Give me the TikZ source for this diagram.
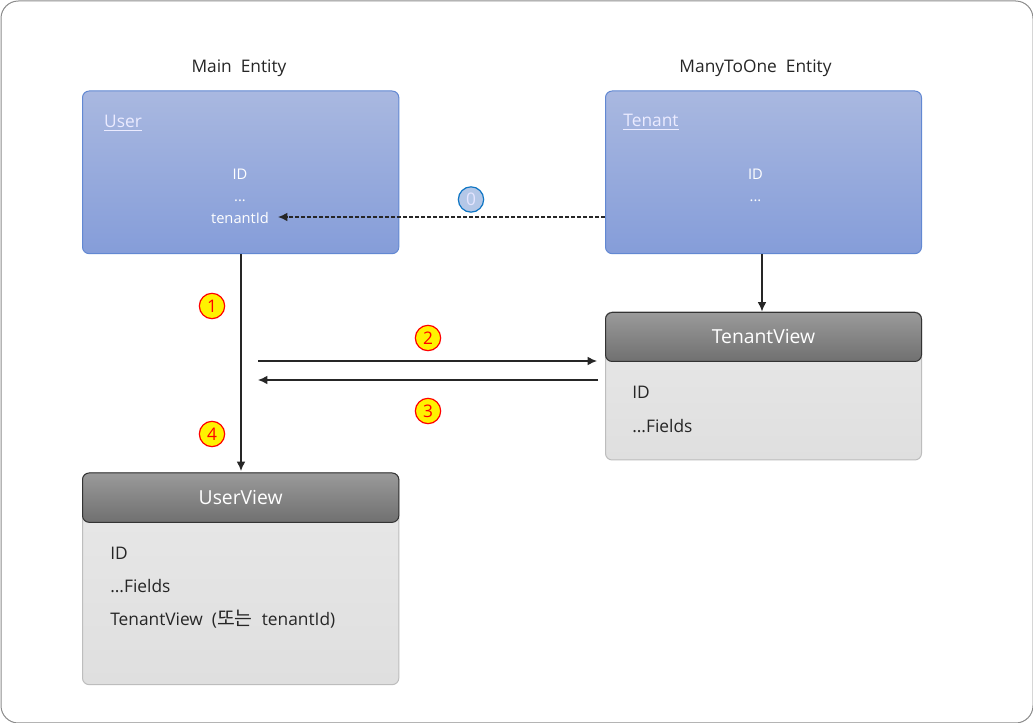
\documentclass[tikz,border=0pt]{standalone}
\usepackage{fontspec}
\setmainfont[WordSpace=2.0]{Open Sans}
\newfontfamily\krfont[Scale=1.12]{Noto Sans CJK KR}
\usetikzlibrary{arrows.meta}
\definecolor{entityB}{HTML}{6288D2}
\definecolor{entityT}{HTML}{A9B8E0}
\definecolor{entityM}{HTML}{859DD9}
\definecolor{headB}{HTML}{333333}
\definecolor{headT}{HTML}{9A9A9A}
\definecolor{headM}{HTML}{707070}
\definecolor{bodyB}{HTML}{BDBDBD}
\definecolor{bodyT}{HTML}{E8E8E8}
\definecolor{bodyM}{HTML}{DFDFDF}
\definecolor{ink}{HTML}{262626}
\definecolor{zeroB}{HTML}{0F76C4}
\definecolor{zeroF}{HTML}{B4C7E7}
\tikzset{
  x=0.75pt,y=-0.75pt,
  frame/.style={draw=black!45,line width=0.75pt,rounded corners=13pt,fill=white},
  bx/.style={anchor=north west,inner sep=0pt,rounded corners=5pt,line width=0.75pt},
  entity/.style={bx,draw=entityB,top color=entityT,bottom color=entityM},
  head/.style={bx,draw=headB,top color=headT,bottom color=headM,text=white,font=\fontsize{14.5}{17}\selectfont},
  body/.style={bx,draw=bodyB,top color=bodyT,bottom color=bodyM},
  lbl/.style={font=\fontsize{13}{15}\selectfont,text=ink,inner sep=0pt},
  wl/.style={font=\fontsize{11}{13}\selectfont,text=white,inner sep=0pt},
  ul/.style={font=\fontsize{13}{15}\selectfont,text=white!92!blue,inner sep=0pt},
  fl/.style={font=\fontsize{13}{15}\selectfont,text=ink,inner sep=0pt,anchor=west},
  badge/.style={circle,draw=red,fill=yellow,text=red,line width=0.9pt,minimum size=19pt,inner sep=0pt,font=\fontsize{13}{15}\selectfont},
  badgez/.style={circle,draw=zeroB,fill=zeroF,text=white!90!blue,line width=0.9pt,minimum size=19pt,inner sep=0pt,font=\fontsize{13}{15}\selectfont},
  conn/.style={draw=ink,line width=1pt,-{Latex[length=7pt,width=6.5pt]}},
}
\begin{document}
\begin{tikzpicture}
\useasboundingbox (0,0) rectangle (1033,723);
\node[frame,anchor=north west,minimum width=774pt,minimum height=541.5pt,inner sep=0pt] (outer) at (0.5,0.5) {};
% titles
\node[lbl] (t1) at (239,68) {Main Entity};
\node[lbl] (t2) at (755.5,68) {ManyToOne Entity};
% entities
\node[entity,minimum width=237.25pt,minimum height=122pt] (user) at (82,90.5) {};
\node[entity,minimum width=237pt,minimum height=122pt] (tenant) at (605,90.5) {};
\node[ul] (un) at (123,123) {\underline{User}};
\node[ul] (tn) at (651,122) {\underline{Tenant}};
\node[wl] (uid) at (240,174) {ID};
\node[wl] (udots) at (240,201) {...};
\node[wl] (utid) at (240,218) {tenantId};
\node[wl] (tid) at (755.5,174) {ID};
\node[wl] (tdots) at (755.5,201) {...};
% tenant view
\node[body,minimum width=237pt,minimum height=111pt] (tvb) at (605,311.5) {};
\node[head,minimum width=237pt,minimum height=36.75pt] (tv) at (605,312) {TenantView};
\node[fl] (tv1) at (632,392) {ID};
\node[fl] (tv2) at (632,426) {...Fields};
% user view
\node[body,minimum width=237.25pt,minimum height=158.75pt] (uvb) at (82,472.5) {};
\node[head,minimum width=237.25pt,minimum height=37pt] (uv) at (82,472.5) {UserView};
\node[fl] (uv1) at (110,553) {ID};
\node[fl] (uv2) at (110,586.5) {...Fields};
\node[fl] (uv3) at (110,619.5) {TenantView ({\krfont 또는} tenantId)};
% free ends
\coordinate (a2s) at (258,361);
\coordinate (a3s) at (598,380);
\coordinate (a3e) at (258,380);
\coordinate (a2e) at (597,361);
\coordinate (usb) at (user.south -| 241,0);
\coordinate (uvt) at (241,471);
\coordinate (tsb) at (tenant.south -| 762,0);
\coordinate (tvt) at (762,311.5);
\coordinate (dashS) at (605,217);
\coordinate (dashE) at (278,217);
% connectors
\draw[conn] (usb) -- (uvt);
\draw[conn] (tsb) -- (tvt);
\draw[conn] (a2s) -- (a2e);
\draw[conn] (a3s) -- (a3e);
\draw[conn,dash pattern=on 3pt off 1.5pt] (dashS) -- (dashE);
% badges
\node[badgez] (b0) at (471,199.5) {0};
\node[badge] (b1) at (212,306) {1};
\node[badge] (b2) at (428,338) {2};
\node[badge] (b3) at (428,411) {3};
\node[badge] (b4) at (212,434) {4};
\end{tikzpicture}
\end{document}
